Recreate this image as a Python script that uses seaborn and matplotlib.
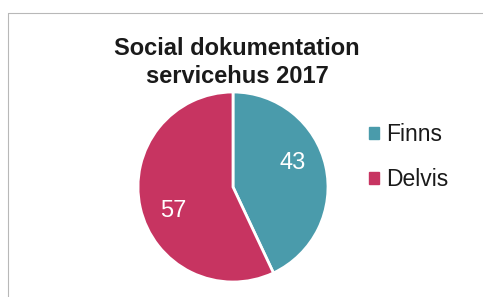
import matplotlib
matplotlib.use("Agg")
import matplotlib.pyplot as plt
import seaborn as sns
import numpy as np
from matplotlib.lines import Line2D
from matplotlib.patches import Rectangle

categories = ["Finns", "Delvis"]
values = [43, 57]
title = "Social dokumentation\nservicehus 2017"
colors = ["#4a9bab", "#c73461"]

sns.set_theme(style="white")
plt.rcParams['font.family'] = ['Liberation Sans', 'DejaVu Sans']

fig = plt.figure(figsize=(4.83, 2.97), dpi=100)
fig.patch.set_facecolor("white")

# chart frame
fig.add_artist(Line2D([8/483, 1.0], [1-13/297, 1-13/297], color="#b8b8b8", lw=0.8))
fig.add_artist(Line2D([8/483, 8/483], [0, 1-13/297], color="#b8b8b8", lw=0.8))

cx, cy, r = 233, 187, 95
ax = fig.add_axes([(cx - r)/483, (297 - cy - r)/297, 2*r/483, 2*r/297])
wedges, texts = ax.pie(values, colors=colors, startangle=90, counterclock=False,
                       wedgeprops=dict(edgecolor="white", linewidth=2), radius=1)
for w, v in zip(wedges, values):
    ang = np.deg2rad((w.theta1 + w.theta2) / 2 + 9)
    ax.text(0.68*np.cos(ang), 0.68*np.sin(ang), str(v), ha="center", va="center",
            color="white", fontsize=17)
ax.set_xlim(-1, 1)
ax.set_ylim(-1, 1)
ax.set_aspect("equal")
ax.axis("off")

fig.text(237/483, 1 - 62.5/297, title, ha="center", va="center", fontsize=17,
         fontweight="bold", color="#1a1a1a", linespacing=1.3)

handles = [Rectangle((0, 0), 1, 1, color=c) for c in colors]
fig.legend(handles, categories, loc="center left", bbox_to_anchor=(348/483, 1 - 157/297),
           frameon=False, fontsize=16.5, handlelength=0.45, handleheight=0.45,
           handletextpad=0.3, labelspacing=0.95, labelcolor="#1a1a1a")

fig.savefig("out.png", dpi=100)
